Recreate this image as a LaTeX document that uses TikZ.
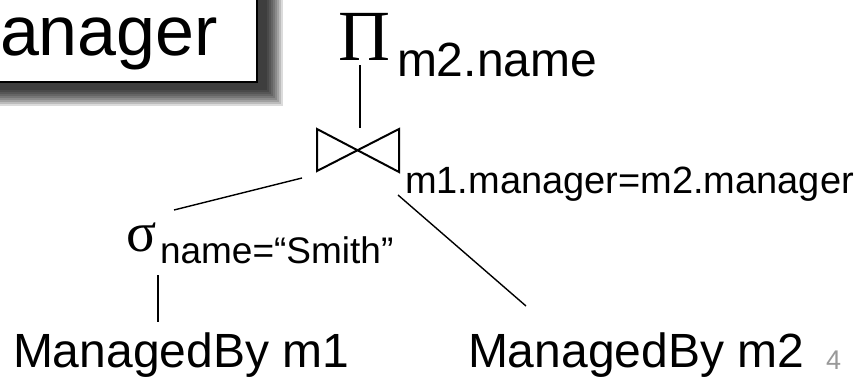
\documentclass[tikz,border=0pt]{standalone}
\usepackage{fontspec}
\setmainfont{Liberation Sans}
\newfontfamily\grk{Liberation Serif}
\newcommand{\fs}[1]{\fontsize{#1}{#1}\selectfont}
\tikzset{
  lbl/.style={inner sep=0pt, outer sep=0pt, anchor=base west},
  edge/.style={line width=1.4pt, line cap=butt},
}
\begin{document}
\begin{tikzpicture}[x=1pt,y=-1pt]
\useasboundingbox (0,0) rectangle (862,376);
\fill[white] (0,0) rectangle (862,376);
% shadow
\foreach \e in {-8,-6,-4,-2,0,2,4,6,8}{
  \fill[black, opacity=0.14] (-20,-20) rectangle (258+17+\e,83+15+\e);
}
\node[draw=black, line width=2.5pt, fill=white, inner sep=0pt, minimum width=300pt, minimum height=110pt, anchor=south east] (box) at (258,83) {};
\node[lbl, font=\fs{70}] (title) at (0,55) {anager};
% projection
\node[lbl, font=\grk\fs{72}] (pi) at (338,60) {Π};
\node[lbl, font=\fs{48}] (pisub) at (397,76) {m2.name};
\coordinate (pibot) at (360,65);
\coordinate (jtop) at (360,128);
\draw[edge] (pibot) -- (jtop);
% join
\coordinate (jl1) at (317,129);
\coordinate (jl2) at (317,171);
\coordinate (jr1) at (399,129);
\coordinate (jr2) at (399,172);
\draw[line width=2pt, line join=miter] (jl1) -- (jr2) -- (jr1) -- (jl2) -- cycle;
\node[lbl, font=\fs{38}] (jlab) at (405,193) {m1.manager=m2.manager};
\coordinate (jleft) at (302,178);
\coordinate (sigtop) at (174,210);
\draw[edge] (jleft) -- (sigtop);
\coordinate (jright) at (398,195);
\coordinate (m2top) at (526,306);
\draw[edge] (jright) -- (m2top);
% selection
\node[lbl, font=\grk\fs{56}] (sigma) at (126,251) {σ};
\node[lbl, font=\fs{37}] (sigsub) at (160,263) {name=“Smith”};
\coordinate (sigbot) at (158,275);
\coordinate (m1top) at (158,322);
\draw[edge] (sigbot) -- (m1top);
% relations
\node[lbl, font=\fs{48}] (m1) at (13,367) {ManagedBy m1};
\node[lbl, font=\fs{48}] (m2) at (468,367) {ManagedBy m2};
\node[lbl, font=\fs{27}, text=black!40] (pg) at (826,369) {4};
\end{tikzpicture}
\end{document}
